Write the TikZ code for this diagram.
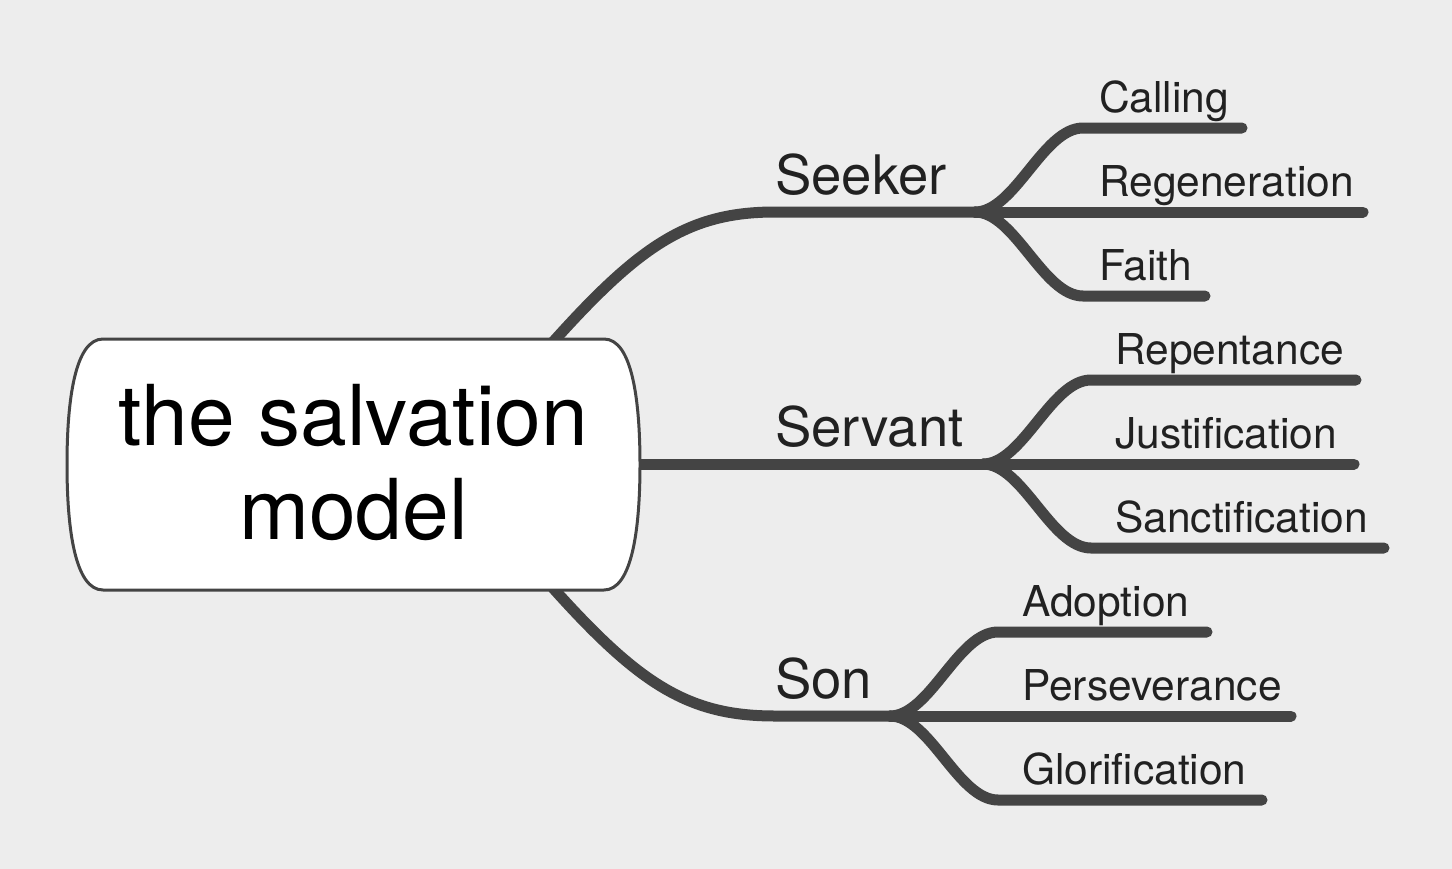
\documentclass[tikz,border=0pt]{standalone}
\usepackage{fontspec}
\setmainfont{TeX Gyre Heros}
\usepackage{tikz}
\usetikzlibrary{calc}
\definecolor{branchgray}{HTML}{444444}
\definecolor{bggray}{HTML}{EDEDED}

\begin{document}
\begin{tikzpicture}[x=1pt,y=-1pt,
                branch/.style={draw=branchgray,line width=11pt,line cap=round},
                topic/.style={anchor=base west,inner sep=0pt,text=black!87,font=\fontsize{54.5}{60}\selectfont},
                subtopic/.style={anchor=base west,inner sep=0pt,text=black!87,font=\fontsize{42.5}{46}\selectfont}
            ]
                \useasboundingbox (0,0) rectangle (1452,868);
                \fill[bggray] (-6,-6) rectangle (1458,874);

                \node[topic] (seeker) at (775,194) {Seeker};
                \node[topic] (servant) at (775,446) {Servant};
                \node[topic] (son) at (775,698) {Son};

                \coordinate (seeker-root) at (553,342);
                \coordinate (servant-root) at (625,464);
                \coordinate (son-root) at (553,588);
                \coordinate (seeker-hub) at (975,212);
                \coordinate (servant-hub) at (983,464);
                \coordinate (son-hub) at (890,716);

                \draw[branch] (seeker-root) .. controls +(87,-97) and +(-86,0) .. (seeker.base west |- seeker-hub) -- (seeker-hub);
                \draw[branch] (servant-root) -- (servant-hub);
                \draw[branch] (son-root) .. controls +(87,97) and +(-86,0) .. (son.base west |- son-hub) -- (son-hub);

                \foreach \hub/\lbl/\dy/\xe/\tx in {seeker/Calling/-84/1242/1099, seeker/Regeneration/0/1363/1099,
                    seeker/Faith/84/1205/1099, servant/Repentance/-84/1356/1115, servant/Justification/0/1354/1115,
                    servant/Sanctification/84/1384/1115, son/Adoption/-84/1207/1022, son/Perseverance/0/1291/1022,
                    son/Glorification/84/1262/1022}
                    {
                    \coordinate (\lbl-start) at ($(\hub-hub)+(108,\dy)$);
                    \coordinate (\lbl-end) at (\xe,0 |- \lbl-start);
                    \draw[branch] (\hub-hub) .. controls +(40,0) and +(-40,0) .. (\lbl-start) -- (\lbl-end);
                    \node[subtopic,yshift=16pt] (\lbl) at (\tx,0 |- \lbl-start) {\lbl};
                }

                \filldraw[fill=white,draw=branchgray,line width=3pt] (103,339) -- (604,339)
                    .. controls (632,339) and (640,400) .. (640,464.5)
                    .. controls (640,529) and (632,590) .. (604,590) -- (103,590)
                    .. controls (75,590) and (67,529) .. (67,464.5)
                    .. controls (67,400) and (75,339) .. (103,339) -- cycle;
                \node[align=center,inner sep=0pt,font=\fontsize{84}{94}\selectfont] (root) at (353.5,463) {the salvation\\model};

            \end{tikzpicture}
\end{document}
